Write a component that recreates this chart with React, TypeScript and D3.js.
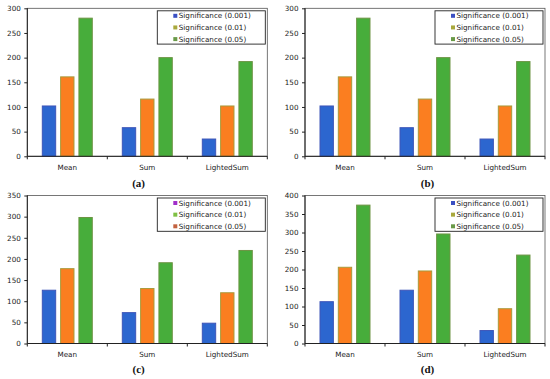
import { useEffect, useRef } from "react";
import * as d3 from "d3";

const categories = ["Mean", "Sum", "LightedSum"];
const seriesNames = ["Significance (0.001)", "Significance (0.01)", "Significance (0.05)"];

// one row per series, one value per category
const valuesA = [[102, 58, 35], [161, 116, 102], [280, 200, 192]];
const valuesB = [[102, 58, 35], [161, 116, 102], [280, 200, 192]];
const valuesC = [[126, 73, 48], [177, 130, 120], [298, 191, 220]];
const valuesD = [[113, 144, 35], [206, 196, 94], [374, 296, 239]];

const yMaxes = [300, 300, 350, 400];
const captions = ["(a)", "(b)", "(c)", "(d)"];

const BAR_FILL = ["#2c66cf", "#fb7e20", "#47ad3b"];
const BAR_STROKE = ["#3d55b8", "#a89a3c", "#6c9443"];
const LEGEND_DEFAULT = ["#3b4fc2", "#a9a83b", "#6a9a48"];
const LEGEND_C = ["#a12fc9", "#7fc043", "#c3623f"];

const FONT = "'DejaVu Sans', Verdana, sans-serif";

export default function App() {
  const ref = useRef<HTMLDivElement>(null);

  useEffect(() => {
    if (!ref.current) return;
    const container = ref.current;
    d3.select(container).select("svg").remove();

    const width = 550;
    const height = 379;
    const plotW = 240;
    const plotH = 148;

    const layout = [
      { left: 27.3, top: 8.3, capX: 138.6, capY: 186.5 },
      { left: 305, top: 8.3, capX: 427.5, capY: 186.5 },
      { left: 27.3, top: 195.5, capX: 138.6, capY: 373 },
      { left: 305, top: 195.5, capX: 427.5, capY: 373 },
    ];
    const allValues = [valuesA, valuesB, valuesC, valuesD];

    const svg = d3.create("svg")
      .attr("width", width)
      .attr("height", height)
      .attr("viewBox", [0, 0, width, height])
      .attr("style", "position:absolute;left:0;top:0;background:#fff;");

    layout.forEach((p, pi) => {
      const values = allValues[pi];
      const right = p.left + plotW;
      const bottom = p.top + plotH;
      const g = svg.append("g");

      const x0 = d3.scaleBand<string>()
        .domain(categories)
        .range([p.left, right])
        .padding(0);

      const x1 = d3.scaleBand<number>()
        .domain(d3.range(seriesNames.length))
        .range([0, x0.bandwidth()])
        .paddingInner(0.27)
        .paddingOuter(0.82);

      const y = d3.scaleLinear()
        .domain([0, yMaxes[pi]])
        .range([bottom, p.top]);

      // plot frame
      g.append("rect")
        .attr("x", p.left)
        .attr("y", p.top)
        .attr("width", plotW)
        .attr("height", plotH)
        .attr("fill", "none")
        .attr("stroke", "#555")
        .attr("stroke-width", 0.8);

      // bars
      values.forEach((row, si) => {
        g.append("g")
          .selectAll("rect")
          .data(row)
          .join("rect")
            .attr("x", (_, ci) => (x0(categories[ci]) ?? 0) + (x1(si) ?? 0))
            .attr("y", d => y(d))
            .attr("width", x1.bandwidth())
            .attr("height", d => bottom - y(d))
            .attr("fill", BAR_FILL[si])
            .attr("stroke", BAR_STROKE[si])
            .attr("stroke-width", 1);
      });

      // y axis
      g.append("g")
        .attr("transform", `translate(${p.left},0)`)
        .call(d3.axisLeft(y).tickValues(d3.range(0, yMaxes[pi] + 1, 50)).tickSize(3).tickPadding(3.5))
        .call(s => s.select(".domain").remove())
        .call(s => s.selectAll(".tick line").attr("stroke", "#222"))
        .call(s => s.selectAll(".tick text")
          .attr("fill", "#222")
          .attr("font-family", FONT)
          .attr("font-size", 7.2));

      // axis lines
      g.append("line")
        .attr("x1", p.left).attr("x2", p.left)
        .attr("y1", p.top).attr("y2", bottom)
        .attr("stroke", "#222");
      g.append("line")
        .attr("x1", p.left).attr("x2", right)
        .attr("y1", bottom).attr("y2", bottom)
        .attr("stroke", "#222");

      // category boundary ticks
      g.append("g")
        .selectAll("line")
        .data([...categories.map(c => x0(c) ?? 0), right])
        .join("line")
          .attr("x1", d => d).attr("x2", d => d)
          .attr("y1", bottom).attr("y2", bottom + 3)
          .attr("stroke", "#222");

      // category labels
      g.append("g")
        .selectAll("text")
        .data(categories)
        .join("text")
          .attr("x", d => (x0(d) ?? 0) + x0.bandwidth() / 2)
          .attr("y", bottom + 13.5)
          .attr("text-anchor", "middle")
          .attr("font-family", FONT)
          .attr("font-size", 7.2)
          .attr("fill", "#222")
          .text(d => d);

      // legend
      const legendColors = pi === 2 ? LEGEND_C : LEGEND_DEFAULT;
      const lx = right - 110;
      const ly = p.top + 2.5;
      const legend = g.append("g").attr("transform", `translate(${lx},${ly})`);
      legend.append("rect")
        .attr("width", 108)
        .attr("height", 33.3)
        .attr("fill", "#fff")
        .attr("stroke", "#222")
        .attr("stroke-width", 0.9);
      const rows = legend.selectAll("g")
        .data(seriesNames)
        .join("g")
          .attr("transform", (_, i) => `translate(0,${5 + i * 11.65})`);
      rows.append("rect")
        .attr("x", 16)
        .attr("y", -2)
        .attr("width", 4)
        .attr("height", 4)
        .attr("fill", (_, i) => legendColors[i]);
      rows.append("text")
        .attr("x", 21.5)
        .attr("dy", "0.35em")
        .attr("font-family", FONT)
        .attr("font-size", 7.2)
        .attr("fill", "#222")
        .text(d => d);

      // caption
      g.append("text")
        .attr("x", p.capX)
        .attr("y", p.capY)
        .attr("text-anchor", "middle")
        .attr("font-family", "'Liberation Serif', 'Times New Roman', serif")
        .attr("font-weight", "bold")
        .attr("font-size", 11)
        .attr("fill", "#111")
        .text(captions[pi]);
    });

    container.append(svg.node()!);
  }, []);

  return <div ref={ref} />;
}
